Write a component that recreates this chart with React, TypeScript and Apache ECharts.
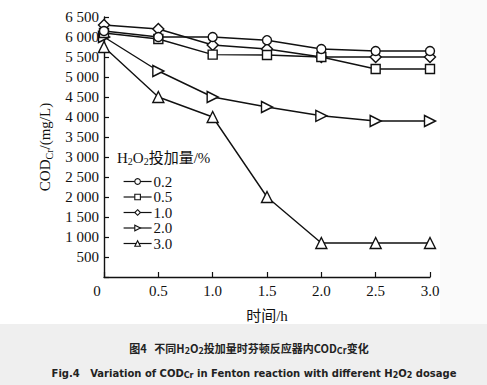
import React, { useEffect, useRef } from "react";
import * as echarts from "echarts";

const times = [0, 0.5, 1.0, 1.5, 2.0, 2.5, 3.0];
const dosages = ["0.2", "0.5", "1.0", "2.0", "3.0"];
const cod02 = [6150, 6000, 6000, 5920, 5700, 5650, 5650];
const cod05 = [6100, 5950, 5560, 5550, 5500, 5200, 5200];
const cod10 = [6300, 6200, 5800, 5700, 5500, 5500, 5500];
const cod20 = [6000, 5150, 4500, 4250, 4030, 3900, 3900];
const cod30 = [5750, 4500, 4000, 2000, 850, 850, 850];
const seriesValues = [cod02, cod05, cod10, cod20, cod30];
const symbols = ["circle", "rect", "diamond", "triangle", "triangle"];
const rotations = [0, 0, 0, -90, 0];
const sizes = [9, 9, 11, 11, 11];

const SERIF = "'Liberation Serif', 'Noto Sans CJK SC', serif";

function fmtY(v: number): string {
  if (v === 0) return "";
  if (v >= 1000) {
    const th = Math.floor(v / 1000);
    const rest = String(v % 1000).padStart(3, "0");
    return th + " " + rest;
  }
  return String(v);
}

export default function App() {
  const ref = useRef<HTMLDivElement>(null);
  useEffect(() => {
    if (!ref.current) return;
    const chart = echarts.init(ref.current, undefined, { renderer: "svg" });
    const series = dosages.map((name, i) => ({
      name,
      type: "line",
      data: times.map((t, j) => [t, seriesValues[i][j]]),
      symbol: symbols[i],
      symbolSize: sizes[i],
      symbolRotate: rotations[i],
      showAllSymbol: true,
      lineStyle: { color: "#111", width: 1.4 },
      itemStyle: { color: "#fff", borderColor: "#111", borderWidth: 1.4 },
      emphasis: { disabled: true },
      z: 5 - i,
    }));
    chart.setOption({
      animation: false,
      backgroundColor: "#fff",
      textStyle: { fontFamily: SERIF, color: "#111" },
      title: {
        text: "H{s|2}O{s|2}投加量/%",
        left: 112,
        top: 144,
        textStyle: {
          fontFamily: SERIF,
          fontSize: 15,
          fontWeight: "normal",
          color: "#111",
          rich: {
            s: { fontSize: 10, verticalAlign: "bottom", padding: [8, 0, 0, 0], fontFamily: SERIF, color: "#111" },
          },
        },
      },
      legend: {
        orient: "vertical",
        left: 118,
        top: 169,
        itemWidth: 28,
        itemHeight: 7,
        itemGap: 0.5,
        data: dosages,
        itemStyle: { borderWidth: 1.1 },
        lineStyle: { width: 1.2 },
        textStyle: { fontFamily: SERIF, fontSize: 15, color: "#111", lineHeight: 15, padding: [0, 0, 0, -3] },
      },
      grid: { left: 104, right: 57, top: 17, bottom: 108, containLabel: false },
      xAxis: {
        type: "value",
        min: 0,
        max: 3,
        interval: 0.5,
        name: "时间/h",
        nameLocation: "middle",
        nameGap: 31,
        nameTextStyle: { fontFamily: SERIF, fontSize: 15, color: "#111" },
        axisLine: { lineStyle: { color: "#111", width: 1.4 } },
        axisTick: { inside: true, length: 5, lineStyle: { color: "#111", width: 1.2 } },
        splitLine: { show: false },
        axisLabel: {
          fontFamily: SERIF,
          fontSize: 15,
          color: "#111",
          margin: 6,
          formatter: (v: number) => (v === 0 ? "{z|0}" : v.toFixed(1)),
          rich: { z: { padding: [0, 14, 0, 0], fontFamily: SERIF, fontSize: 15, color: "#111" } },
        },
      },
      yAxis: {
        type: "value",
        min: 0,
        max: 6500,
        interval: 500,
        name: "{a|COD}{b|Cr}{a|/(mg/L)}",
        nameLocation: "middle",
        nameGap: 48,
        nameTextStyle: {
          rich: {
            a: { fontFamily: SERIF, fontSize: 15, color: "#111" },
            b: { fontFamily: SERIF, fontSize: 10, color: "#111", verticalAlign: "bottom", padding: [8, 0, 0, 0] },
          },
        },
        axisLine: { show: true, lineStyle: { color: "#111", width: 1.4 } },
        axisTick: { show: true, inside: true, length: 5, lineStyle: { color: "#111", width: 1.2 } },
        splitLine: { show: false },
        axisLabel: { fontFamily: SERIF, fontSize: 15, color: "#111", margin: 5, formatter: fmtY },
      },
      graphic: [
        { type: "rect", z: -10, shape: { x: 440, y: 0, width: 47, height: 324 }, style: { fill: "#fafafa" } },
        { type: "rect", z: -10, shape: { x: 0, y: 324, width: 487, height: 61 }, style: { fill: "#efefef" } },
        {
          type: "text",
          x: 249,
          y: 348,
          style: {
            text: "图4   不同H{s|2}O{s|2}投加量时芬顿反应器内COD{s|Cr}变化",
            align: "center",
            verticalAlign: "middle",
            fontFamily: "'Noto Sans CJK SC', sans-serif",
            fontWeight: "bold",
            fontSize: 11,
            fill: "#222",
            rich: {
              s: { fontSize: 9, fontWeight: "bold", fontFamily: "'Noto Sans CJK SC', sans-serif", fill: "#222", padding: [5, 0, 0, 0] },
            },
          },
        },
        {
          type: "text",
          x: 254,
          y: 373,
          style: {
            text: "Fig.4   Variation of COD{s|Cr} in Fenton reaction with different H{s|2}O{s|2} dosage",
            align: "center",
            verticalAlign: "middle",
            fontFamily: "'DejaVu Sans', sans-serif",
            fontWeight: "bold",
            fontSize: 10,
            fill: "#222",
            rich: {
              s: { fontSize: 8, fontWeight: "bold", fontFamily: "'DejaVu Sans', sans-serif", fill: "#222", padding: [5, 0, 0, 0] },
            },
          },
        },
      ],
      series,
    });
    return () => chart.dispose();
  }, []);
  return (
    <div
      ref={ref}
      style={{ position: "absolute", left: 0, top: 0, width: 487, height: 385 }}
    />
  );
}
